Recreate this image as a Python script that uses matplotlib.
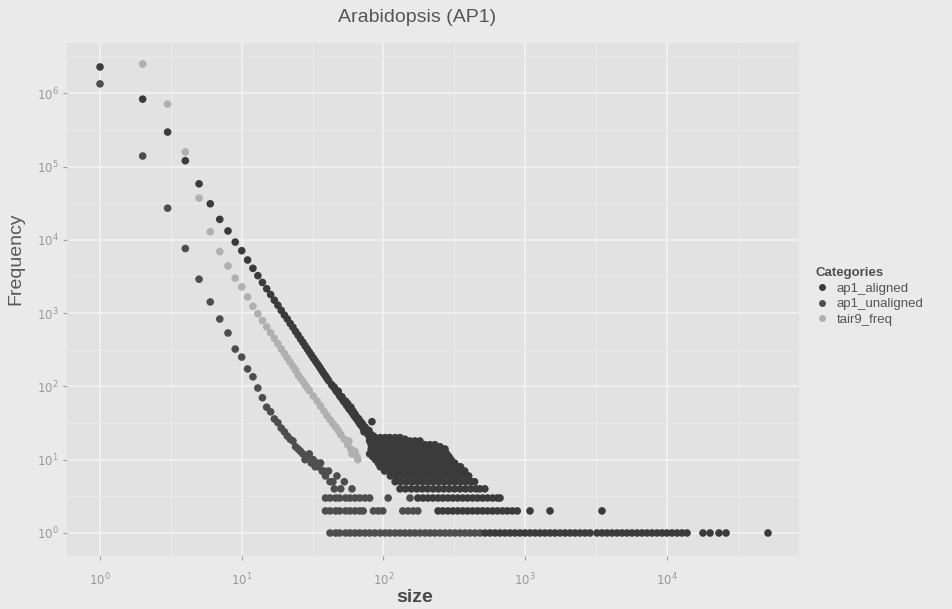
import matplotlib.pyplot as plt
from matplotlib.lines import Line2D

plt.rcParams['font.family'] = ['Liberation Sans', 'DejaVu Sans']

categories = ['ap1_aligned', 'ap1_unaligned', 'tair9_freq']
colors = ['#3b3b3b', '#4e4e4e', '#b0b0b0']

# ap1_aligned: steep head, long line, the dense blob and the low count rows
aligned_size = [
    1, 2, 3, 4, 5, 6, 7, 8, 9, 10, 11,
    12, 13, 14, 15, 16, 17, 18, 19, 20, 21, 22, 23, 24, 25, 26, 27, 28, 29, 30,
    31, 32, 33, 34, 35, 36, 37, 38, 39, 40, 41,
    43, 44, 45, 46, 47, 48, 49, 50, 51, 52, 53, 54, 55, 56, 57, 58, 59, 60, 61,
    62, 63, 64, 65, 66, 67, 68, 69, 70, 71, 72, 73, 74, 75, 76, 77, 78, 79, 80,
    82, 83, 85,
    80, 87, 95, 103, 111, 121, 131, 142,
    80, 87, 95, 103, 111, 121, 131, 142, 154, 167, 181,
    82, 90, 98, 107, 117, 128, 140, 154, 167, 181, 197, 213, 231, 251,
    82, 90, 98, 107, 117, 128, 140, 154, 167, 181, 197, 213, 231, 251, 272,
    85, 93, 102, 112, 123, 135, 148, 162, 177, 193, 210, 229, 250, 272,
    80, 88, 96, 105, 115, 126, 138, 151, 165, 180, 197, 215, 235, 256, 280,
    84, 92, 101, 110, 121, 132, 145, 158, 173, 189, 206, 225, 246, 268, 290,
    88, 96, 105, 115, 126, 138, 151, 165, 180, 197, 215, 235, 256, 280, 300,
    92, 101, 110, 121, 132, 145, 158, 173, 189, 206, 225, 246, 268, 292, 318,
    95, 104, 114, 125, 137, 150, 164, 179, 196, 214, 234, 256, 280, 306, 335, 350,
    102, 112, 123, 135, 148, 162, 177, 193, 210, 229, 250, 272, 297, 324, 353, 375,
    112, 123, 135, 148, 162, 177, 193, 210, 229, 250, 272, 297, 324, 353, 385, 400,
    121, 133, 146, 160, 175, 191, 208, 227, 248, 270, 295, 322, 351, 383, 418, 440,
    131, 143, 157, 172, 188, 205, 224, 245, 267, 291, 318, 347, 379, 413, 451, 480, 520,
    175, 190, 206, 223, 243, 263, 285, 309, 335, 363, 393, 426, 462, 501, 543, 589, 638, 665,
    243, 263, 285, 309, 335, 363, 393, 426, 462, 501, 543, 589, 638, 692, 750, 813, 881,
    1083, 1499, 3490,
    521, 565, 613, 665, 721, 782, 849, 920, 998, 1083, 1175, 1274, 1381, 1499, 1625,
    1763, 1913, 2075, 2250, 2440, 2647, 2871, 3215, 3490, 3785, 4105, 4453, 4830,
    5240, 5680, 6160, 6680, 7245, 7860, 8530, 9250, 10030, 10880, 11800, 12800, 13890,
    18000, 20200, 23350, 26180, 51800,
]
aligned_freq = [
    2280000, 830000, 295000, 120000, 58000, 31000, 19000, 13200, 9300, 7100, 5300,
    4080, 3240, 2620, 2150, 1790, 1500, 1280, 1090, 940, 830, 720, 640, 560, 500, 444, 400, 359, 325, 294,
    268, 244, 224, 206, 190, 175, 161, 149, 139, 129, 120,
    106, 100, 97, 89, 84, 86, 75, 71, 72, 64, 61, 63, 55, 58, 50, 48, 52, 44, 46,
    40, 42, 37, 38, 34, 36, 31, 33, 29, 31, 27, 24, 28, 24, 26, 23, 22, 25, 20,
    22, 33, 21,
    20, 20, 20, 20, 20, 20, 20, 19,
    18, 18, 18, 18, 18, 18, 18, 18, 18, 18, 18,
    16, 16, 16, 16, 16, 16, 16, 16, 16, 16, 16, 16, 16, 15,
    14, 14, 14, 14, 14, 14, 14, 14, 14, 14, 14, 14, 14, 14, 14,
    13, 13, 13, 13, 13, 13, 13, 13, 13, 13, 13, 13, 13, 13,
    12, 12, 12, 12, 12, 12, 12, 12, 12, 12, 12, 12, 12, 12, 12,
    11, 11, 11, 11, 11, 11, 11, 11, 11, 11, 11, 11, 11, 11, 11,
    10, 10, 10, 10, 10, 10, 10, 10, 10, 10, 10, 10, 10, 10, 10,
    9, 9, 9, 9, 9, 9, 9, 9, 9, 9, 9, 9, 9, 9, 9,
    8, 8, 8, 8, 8, 8, 8, 8, 8, 8, 8, 8, 8, 8, 8, 8,
    7, 7, 7, 7, 7, 7, 7, 7, 7, 7, 7, 7, 7, 7, 7, 7,
    6, 6, 6, 6, 6, 6, 6, 6, 6, 6, 6, 6, 6, 6, 6, 6,
    5, 5, 5, 5, 5, 5, 5, 5, 5, 5, 5, 5, 5, 5, 5, 5,
    4, 4, 4, 4, 4, 4, 4, 4, 4, 4, 4, 4, 4, 4, 4, 4, 4,
    3, 3, 3, 3, 3, 3, 3, 3, 3, 3, 3, 3, 3, 3, 3, 3, 3, 3,
    2, 2, 2, 2, 2, 2, 2, 2, 2, 2, 2, 2, 2, 2, 2, 2, 2,
    2, 2, 2,
    1, 1, 1, 1, 1, 1, 1, 1, 1, 1, 1, 1, 1, 1, 1,
    1, 1, 1, 1, 1, 1, 1, 1, 1, 1, 1, 1, 1,
    1, 1, 1, 1, 1, 1, 1, 1, 1, 1, 1, 1, 1,
    1, 1, 1, 1, 1,
]

# ap1_unaligned: lower, noisier curve
unaligned_size = [
    1, 2, 3, 4, 5, 6, 7, 8, 9, 10, 11, 12,
    13, 14, 15, 16, 17, 18, 19, 20, 21, 22, 23, 24, 25, 26, 27, 28, 29, 30,
    31, 32, 33, 34, 35, 36, 37, 38, 39, 41, 42, 44, 45, 47, 50, 53, 60,
    39, 42, 46, 49, 54, 58, 63, 68, 74, 80, 108, 154,
    39, 42, 46, 49, 54, 58, 63, 68, 72, 85, 92, 99, 137, 149, 162, 175,
    42, 46, 49, 54, 58, 63, 68, 74, 80, 87, 95, 103, 111, 121, 131, 142, 154, 167,
    181, 197, 213, 231, 251, 272, 295, 320, 347, 377, 408, 443, 481,
]
unaligned_freq = [
    1340000, 139000, 27000, 7600, 2900, 1420, 830, 535, 323, 251, 173, 135,
    95, 70, 52, 45, 36, 32, 27, 24, 21, 19, 18, 15, 14, 13, 12, 10, 11, 12,
    9, 10, 8, 9, 8, 9, 7, 7, 6, 7, 5, 5, 4, 6, 4, 5, 4,
    3, 3, 3, 3, 3, 3, 3, 3, 3, 3, 3, 3,
    2, 2, 2, 2, 2, 2, 2, 2, 2, 2, 2, 2, 2, 2, 2, 2,
    1, 1, 1, 1, 1, 1, 1, 1, 1, 1, 1, 1, 1, 1, 1, 1, 1, 1,
    1, 1, 1, 1, 1, 1, 1, 1, 1, 1, 1, 1, 1,
]

# tair9_freq: light middle curve
tair9_size = [
    2, 3, 4, 5, 6, 7, 8, 9, 10, 11,
    12, 13, 14, 15, 16, 17, 18, 19, 20, 21, 22, 23, 24, 25, 26, 27, 28, 29, 30,
    32, 34, 36, 38, 40, 42, 44, 46, 48, 50, 53, 56, 57, 59, 60, 62, 63, 65, 66,
]
tair9_freq = [
    2500000, 710000, 158000, 37000, 12900, 6900, 4400, 3000, 2280, 1660,
    1240, 980, 790, 650, 540, 450, 383, 326, 282, 245, 214, 188, 166, 143, 129, 117, 105, 96, 88,
    74, 63, 54, 46, 40, 35, 31, 28, 25, 22, 19, 16, 18, 14, 12, 12, 13, 11, 10,
]

xticks = [1, 10, 100, 1000, 10000]
xtick_labels = [r'$10^{0}$', r'$10^{1}$', r'$10^{2}$', r'$10^{3}$', r'$10^{4}$']
yticks = [1, 10, 100, 1000, 10000, 100000, 1000000]
ytick_labels = [r'$10^{0}$', r'$10^{1}$', r'$10^{2}$', r'$10^{3}$',
                r'$10^{4}$', r'$10^{5}$', r'$10^{6}$']

fig = plt.figure(figsize=(9.53, 6.09), dpi=100, facecolor='#eaeaea')
ax = fig.add_axes([67 / 953, 1 - 556 / 609, (799 - 67) / 953, (556 - 43) / 609])
ax.set_facecolor('#e2e2e2')
ax.set_xscale('log')
ax.set_yscale('log')

ax.scatter(tair9_size, tair9_freq, s=30, c=colors[2], edgecolors='none', zorder=3)
ax.scatter(unaligned_size, unaligned_freq, s=30, c=colors[1], edgecolors='none', zorder=4)
ax.scatter(aligned_size, aligned_freq, s=30, c=colors[0], edgecolors='none', zorder=5)

ax.set_xticks(xticks)
ax.set_xticklabels(xtick_labels)
ax.set_yticks(yticks)
ax.set_yticklabels(ytick_labels)
ax.set_xticks([10 ** (k + 0.5) for k in range(0, 5)], minor=True)
ax.set_yticks([10 ** (k + 0.5) for k in range(0, 7)], minor=True)
ax.xaxis.set_minor_formatter(plt.NullFormatter())
ax.yaxis.set_minor_formatter(plt.NullFormatter())
ax.set_xlim(10 ** -0.233, 10 ** 4.933)
ax.set_ylim(10 ** -0.314, 10 ** 6.685)
ax.tick_params(which='major', length=3, color='#a0a0a0', labelsize=8.5,
               labelcolor='#999999')
ax.tick_params(axis='x', which='major', pad=8)
ax.tick_params(axis='y', which='major', pad=3)
ax.tick_params(which='minor', length=0)
ax.grid(which='major', color='#f3f3f3', linewidth=1.1)
ax.grid(which='minor', color='#ececec', linewidth=0.6)
ax.set_axisbelow(True)
for sp in ax.spines.values():
    sp.set_visible(False)

fig.text(417 / 953, 1 - 18 / 609, 'Arabidopsis (AP1)', ha='center', va='center',
         fontsize=14, color='#555555')
fig.text(415 / 953, 1 - 597 / 609, 'size', ha='center', va='center',
         fontsize=14, color='#4a4a4a', fontweight='bold')
fig.text(16 / 953, 1 - 259 / 609, 'Frequency', ha='center', va='center',
         rotation=90, fontsize=14, color='#5a5a5a')

handles = [Line2D([], [], linestyle='none', marker='o', markersize=5,
                  markerfacecolor=c, markeredgecolor='none') for c in colors]
leg = fig.legend(handles, categories, loc='upper left',
                 bbox_to_anchor=(806 / 953, 1 - 258 / 609), frameon=False,
                 title='Categories', fontsize=9.5, labelcolor='#555555',
                 handlelength=1.0, handletextpad=0.6, labelspacing=0.25,
                 borderpad=0.2)
leg.get_title().set_fontweight('bold')
leg.get_title().set_fontsize(9.5)
leg.get_title().set_color('#505050')
leg._legend_box.align = 'left'

fig.savefig('out.png', dpi=100, facecolor=fig.get_facecolor())
